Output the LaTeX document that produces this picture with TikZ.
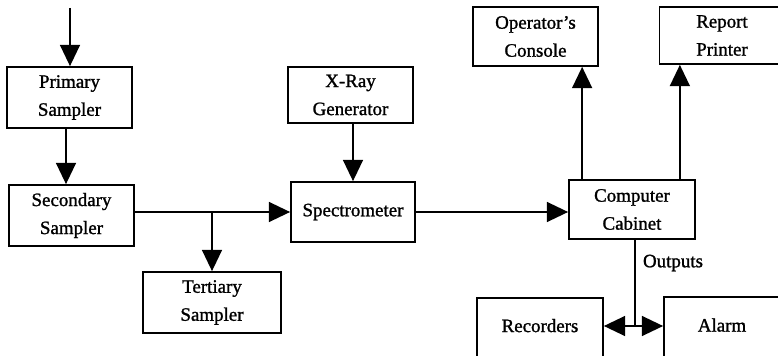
\documentclass[tikz,border=0pt]{standalone}
\usepackage{fontspec}
\setmainfont{Liberation Serif}
\newfontfamily\heavyfont{Liberation Serif}[FakeBold=1.2]
\usetikzlibrary{arrows.meta,calc}
\begin{document}
\begin{tikzpicture}[x=0.75pt,y=-0.75pt,
  lbl/.style={font=\heavyfont\fontsize{14.2}{21}\selectfont},
  box/.style={draw,line width=1.3pt,align=center,inner sep=0pt,lbl,
    minimum width=93.75pt,minimum height=45.75pt},
  arr/.style={line width=1.3pt,-{Triangle[length=16pt,width=15pt]}},
  conn/.style={line width=1.3pt}]
\useasboundingbox (0,0) rectangle (778,356);
\clip (0,0) rectangle (778,356);
\fill[white] (0,0) rectangle (778,356);
\node[box] (prim) at (69.5,97.5) {Primary\\Sampler};
\node[box] (sec) at (71.5,215.5) {Secondary\\Sampler};
\node[box,minimum width=103.5pt] (ter) at (212,302.5) {Tertiary\\Sampler};
\node[box,minimum height=42pt] (xray) at (350.5,95) {X-Ray\\Generator};
\node[box,minimum width=93pt,minimum height=45pt] (spec) at (353,212) {Spectrometer};
\node[box,minimum width=94.5pt,minimum height=44.25pt] (comp) at (632,209.5) {Computer\\Cabinet};
\node[box,minimum height=44.25pt] (op) at (535.5,36.5) {Operator’s\\Console};
\node[box,minimum height=42.75pt] (rep) at (722,35.5) {Report\\Printer};
\node[box,minimum width=94.5pt,minimum height=46.5pt] (rec) at (540,329) {\raisebox{5.25pt}{Recorders}};
\node[box,minimum width=87pt,minimum height=47.25pt] (alarm) at (722,328.5) {\raisebox{5.25pt}{Alarm}};
\node[lbl,inner sep=0pt] (outl) at (673,263) {Outputs};
\coordinate (in) at (70,8);
\draw[arr] (in) -- (in |- prim.north);
\draw[arr] ($(prim.south)+(-3.5,0)$) -- ($(prim.south |- sec.north)+(-3.5,0)$);
\draw[arr] (sec.east |- spec.west) -- (spec.west);
\draw[arr] (ter.north |- spec.west) -- (ter.north);
\draw[arr] (spec.north |- xray.south) -- (spec.north);
\draw[arr] (spec.east) -- (spec.east -| comp.west);
\coordinate (c1) at ($(comp.north west)+(14,0)$);
\coordinate (c2) at ($(comp.north east)+(-16,0)$);
\draw[arr] (c1) -- (c1 |- op.south);
\draw[arr] (c2) -- (c2 |- rep.south);
\coordinate (j) at ($(comp.south)+(3,0)$);
\coordinate (jj) at (j |- 0,326);
\draw[conn] (j) -- (jj);
\draw[arr] (jj) -- (jj -| rec.east);
\draw[arr] (jj) -- (jj -| alarm.west);
\end{tikzpicture}
\end{document}
